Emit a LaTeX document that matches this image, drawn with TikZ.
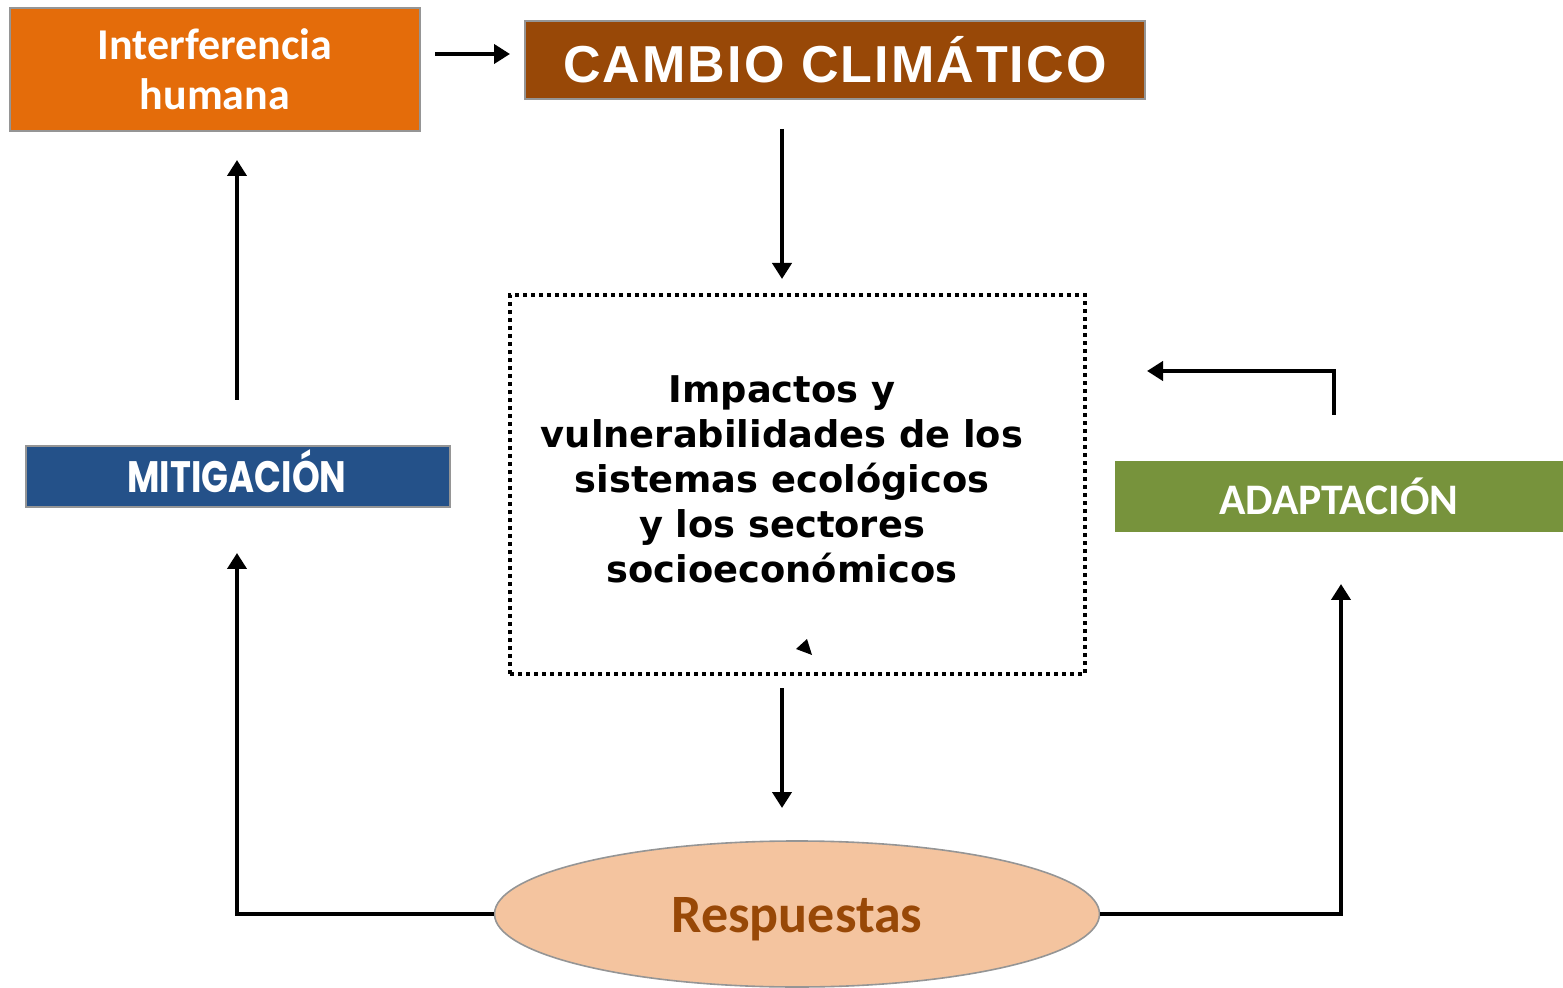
\documentclass[tikz,border=0pt]{standalone}
\usepackage{fontspec}
\setmainfont{Carlito}
\newfontfamily\verd{DejaVu Sans}
\newfontfamily\cmbfont{Liberation Sans}[LetterSpace=4]
\newfontfamily\popp{Poppins}
\usetikzlibrary{arrows.meta,shapes.geometric}
\definecolor{cOrange}{HTML}{E46C0A}
\definecolor{cBrown}{HTML}{984807}
\definecolor{cBlue}{HTML}{245189}
\definecolor{cGreen}{HTML}{77933C}
\definecolor{cPeach}{HTML}{F4C49F}
\definecolor{cBorder}{HTML}{959595}
\tikzset{
  arr/.style={line width=2pt,-{Triangle[length=8pt,width=9.5pt]}},
  box/.style={rectangle,inner sep=0pt,align=center,draw=cBorder,line width=0.8pt,text=white},
}
\begin{document}
\begin{tikzpicture}[x=0.5pt,y=-0.5pt]
\useasboundingbox (0,0) rectangle (1563,988);
% boxes
\node[box,fill=cOrange,minimum width=205pt,minimum height=61.5pt,font=\fontsize{22}{25}\selectfont\bfseries] (inter) at (215,69.5) {Interferencia\\humana};
\node[box,fill=cBrown,minimum width=310pt,minimum height=39pt,font=\cmbfont\fontsize{26}{30}\selectfont\bfseries] (cc) at (835,60) {CAMBIO CLIMÁTICO};
\node[rectangle,draw=black,line width=2pt,dash pattern=on 2pt off 2pt,minimum width=287.5pt,minimum height=189.5pt,inner sep=0pt] (imp) at (797.5,484.5) {};
\node[align=center,font=\verd\fontsize{18.4}{22.5}\selectfont\bfseries] (imptext) at (782,479) {Impactos y\\vulnerabilidades de los\\sistemas ecológicos\\y los sectores\\socioeconómicos};
\node[box,fill=cBlue,minimum width=212pt,minimum height=30.5pt] (mit) at (238,476.5) {};
\node[text=white,inner sep=0pt] (mittext) at (237,471) {\resizebox{109.5pt}{\height}{\popp\fontsize{22}{24}\selectfont\bfseries MITIGACIÓN}};
\node[box,draw=none,fill=cGreen,minimum width=224pt,minimum height=35.5pt,font=\fontsize{21.8}{26}\selectfont\bfseries] (ada) at (1339,496.5) {ADAPTACIÓN};
\node[ellipse,draw=cBorder,line width=0.8pt,fill=cPeach,minimum width=302.5pt,minimum height=73pt,inner sep=0pt] (resp) at (797,914) {};
\node[text=cBrown,font=\fontsize{27}{30}\selectfont\bfseries,inner sep=0pt] (resptext) at (797,919) {Respuestas};
% small triangle artifact
\fill (796,649) -- (807,639) -- (812,655) -- cycle;
% coordinates
\coordinate (a1s) at (435,54);
\coordinate (a1e) at (510,54);
\coordinate (a2s) at (782,129);
\coordinate (a2e) at (782,279);
\coordinate (a3s) at (782,688);
\coordinate (a3e) at (782,808);
\coordinate (a4c) at (237,914);
\coordinate (a4e) at (237,553);
\coordinate (a5s) at (237,400);
\coordinate (a5e) at (237,160);
\coordinate (a6c) at (1341,914);
\coordinate (a6e) at (1341,584);
\coordinate (a7s) at (1334,415);
\coordinate (a7c) at (1334,371);
\coordinate (a7e) at (1147,371);
% connectors
\draw[arr] (a1s) -- (a1e);
\draw[arr] (a2s) -- (a2e);
\draw[arr] (a3s) -- (a3e);
\draw[arr] (resp.west) -- (a4c) -- (a4e);
\draw[arr] (a5s) -- (a5e);
\draw[arr] (resp.east) -- (a6c) -- (a6e);
\draw[arr] (a7s) -- (a7c) -- (a7e);
\end{tikzpicture}
\end{document}
